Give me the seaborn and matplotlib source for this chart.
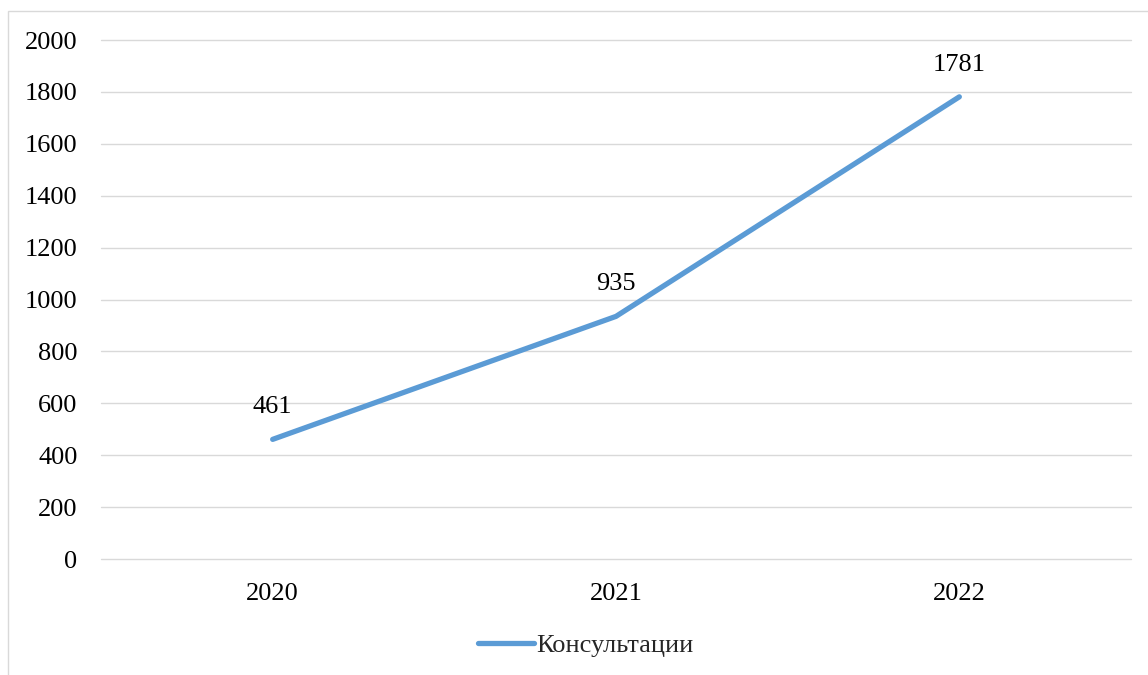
import matplotlib
matplotlib.use("Agg")
import matplotlib.pyplot as plt
from matplotlib.patches import Rectangle
import seaborn as sns
import pandas as pd

years = ["2020", "2021", "2022"]
consultations = [461, 935, 1781]
series_name = "Консультации"
y_ticks = [0, 200, 400, 600, 800, 1000, 1200, 1400, 1600, 1800, 2000]

sns.set_theme(style="white")
plt.rcParams["font.family"] = ["Liberation Serif", "DejaVu Serif"]

W, H = 1148, 675
fig = plt.figure(figsize=(W / 100, H / 100), dpi=100)
ax = fig.add_axes([101 / W, 1 - 559 / H, (1131 - 101) / W, (559 - 40) / H])

df = pd.DataFrame({"year": years, "value": consultations, "series": series_name})
line_color = "#5B9BD5"
sns.lineplot(data=df, x="year", y="value", ax=ax, color=line_color,
             linewidth=3.8, solid_capstyle="round", label=series_name, sort=False)

ax.set_xlim(-0.5, len(years) - 0.5)
ax.set_ylim(0, 2000)
ax.set_yticks(y_ticks)
ax.set_yticklabels([str(t) for t in y_ticks])
ax.yaxis.grid(True, color="#D9D9D9", linewidth=1.0)
for gl in ax.get_ygridlines():
    gl.set_clip_on(False)
ax.xaxis.grid(False)
ax.set_axisbelow(True)
for s in ax.spines.values():
    s.set_visible(False)
ax.tick_params(axis="y", length=0, pad=17, labelsize=19, labelcolor="black")
ax.tick_params(axis="x", length=0, pad=17, labelsize=19, labelcolor="black")
ax.set_xlabel("")
ax.set_ylabel("")

for i, v in enumerate(consultations):
    ax.annotate(str(v), (i, v), xytext=(0, 23), textcoords="offset points",
                ha="center", va="center", fontsize=19, color="black")

leg = ax.legend(loc="center", bbox_to_anchor=(586 / W, 1 - 645 / H),
                bbox_transform=fig.transFigure, frameon=False, fontsize=19,
                handlelength=2.1, handletextpad=0.1)
for h in leg.get_lines():
    h.set_linewidth(3.8)
    h.set_solid_capstyle("round")

# outer chart frame
fig.patches.append(Rectangle((8 / W, -0.1), 1.2, 1 - 11 / H + 0.1,
                             transform=fig.transFigure, fill=False,
                             edgecolor="#D9D9D9", linewidth=1.0, clip_on=False))

fig.savefig("out.png", dpi=100)
